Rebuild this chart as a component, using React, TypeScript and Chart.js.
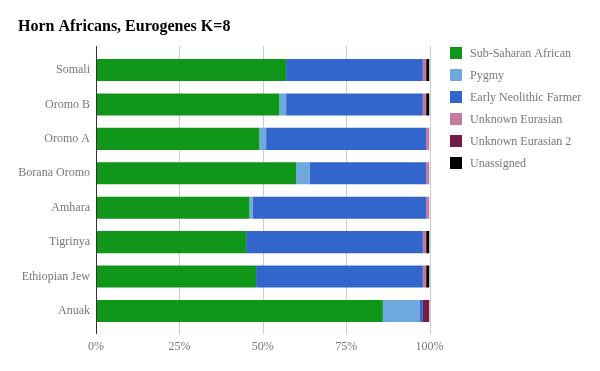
import React, { useEffect, useRef } from "react";
import { Chart, registerables } from "chart.js";

Chart.register(...registerables);

const categories = ["Somali", "Oromo B", "Oromo A", "Borana Oromo", "Amhara", "Tigrinya", "Ethiopian Jew", "Anuak"];
const subSaharan = [57, 55, 49, 60, 46, 45, 48, 86];
const pygmy = [0, 2, 2, 4, 1, 0, 0, 11];
const earlyNeolithic = [41, 41, 48, 35, 52, 53, 50, 1];
const unknownEurasian = [1, 1, 1, 1, 1, 1, 1, 0];
const unknownEurasian2 = [0, 0, 0, 0, 0, 0, 0, 2];
const unassigned = [1, 1, 0, 0, 0, 1, 1, 0];
const xTicks = [0, 25, 50, 75, 100];

const seriesNames = ["Sub-Saharan African", "Pygmy", "Early Neolithic Farmer", "Unknown Eurasian", "Unknown Eurasian 2", "Unassigned"];
const seriesColors = ["#109618", "#6fa8dc", "#3366cc", "#c27ba0", "#741b47", "#000000"];
const seriesValues = [subSaharan, pygmy, earlyNeolithic, unknownEurasian, unknownEurasian2, unassigned];

const FONT = "'Liberation Serif', 'Times New Roman', serif";
const TEXT_GRAY = "#777777";

export default function App() {
  const ref = useRef<HTMLCanvasElement>(null);
  useEffect(() => {
    if (!ref.current) return;
    const custom = {
      id: "custom",
      beforeDatasetsDraw(chart: any) {
        const ctx = chart.ctx;
        const area = chart.chartArea;
        const xs = chart.scales.x;
        const top = area.top - 6.8;
        const bottom = area.bottom + 5.8;
        ctx.save();
        ctx.lineWidth = 1;
        ctx.strokeStyle = "#cccccc";
        xTicks.forEach((v) => {
          if (v === 0) return;
          const x = Math.round(xs.getPixelForValue(v)) + 0.5;
          ctx.beginPath();
          ctx.moveTo(x, top);
          ctx.lineTo(x, bottom);
          ctx.stroke();
        });
        ctx.restore();
      },
      afterDraw(chart: any) {
        const ctx = chart.ctx;
        const area = chart.chartArea;
        const xs = chart.scales.x;
        ctx.save();
        ctx.strokeStyle = "#333333";
        ctx.lineWidth = 1;
        const x0 = Math.round(xs.getPixelForValue(0)) + 0.5;
        ctx.beginPath();
        ctx.moveTo(x0, area.top - 6.8);
        ctx.lineTo(x0, area.bottom + 5.8);
        ctx.stroke();
        ctx.fillStyle = "#000000";
        ctx.font = `bold 16px ${FONT}`;
        ctx.textBaseline = "middle";
        ctx.textAlign = "left";
        ctx.fillText("Horn Africans, Eurogenes K=8", 18, 27);
        ctx.font = `12px ${FONT}`;
        seriesNames.forEach((name, i) => {
          const yc = 53 + 22 * i;
          ctx.fillStyle = seriesColors[i];
          ctx.fillRect(450, yc - 6, 12, 12);
          ctx.fillStyle = TEXT_GRAY;
          ctx.fillText(name, 470, yc + 1);
        });
        ctx.restore();
      },
    };
    const chart = new Chart(ref.current, {
      type: "bar",
      data: {
        labels: categories,
        datasets: seriesNames.map((name, i) => ({
          label: name,
          data: seriesValues[i],
          backgroundColor: seriesColors[i],
          borderWidth: 0,
          categoryPercentage: 1,
          barPercentage: 0.64,
        })),
      },
      options: {
        indexAxis: "y",
        responsive: false,
        animation: false,
        devicePixelRatio: 1,
        layout: { padding: { top: 52.8, right: 170.5, left: 0, bottom: 0 } },
        plugins: {
          legend: { display: false },
          title: { display: false },
          tooltip: { enabled: false },
        },
        scales: {
          x: {
            stacked: true,
            min: 0,
            max: 100,
            afterFit: (s: any) => { s.height = 42.8; },
            afterBuildTicks: (s: any) => { s.ticks = xTicks.map((v) => ({ value: v })); },
            grid: { display: false, drawTicks: false },
            border: { display: false },
            ticks: {
              padding: 11,
              color: TEXT_GRAY,
              font: { family: FONT, size: 12 },
              callback: (v: any) => `${v}%`,
              maxRotation: 0,
              autoSkip: false,
            },
          },
          y: {
            stacked: true,
            afterFit: (s: any) => { s.width = 96; },
            grid: { display: false, drawTicks: false },
            border: { display: false },
            ticks: {
              padding: 6,
              color: TEXT_GRAY,
              font: { family: FONT, size: 12, lineHeight: 1.4 },
              autoSkip: false,
            },
          },
        },
      },
      plugins: [custom],
    });
    return () => chart.destroy();
  }, []);
  return (
    <div style={{ position: "absolute", left: 0, top: 0, width: 600, height: 371, background: "#fff" }}>
      <canvas ref={ref} width={600} height={371} style={{ width: 600, height: 371 }} />
    </div>
  );
}
